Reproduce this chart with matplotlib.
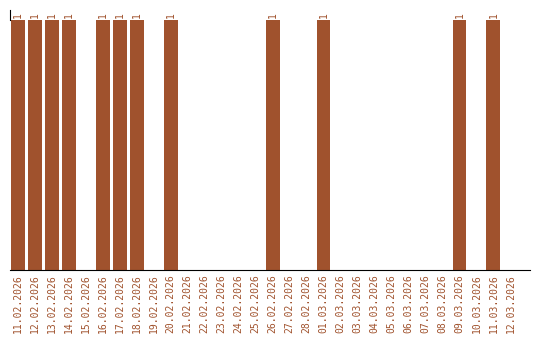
import matplotlib
matplotlib.use("Agg")
from matplotlib import pyplot as plt
import pandas as pd

# one entry per day, value = count
dates = pd.date_range("2026-02-11", "2026-03-12", freq="D")
date_labels = [d.strftime("%d.%m.%Y") for d in dates]
hit_days = ["11.02.2026", "12.02.2026", "13.02.2026", "14.02.2026",
            "16.02.2026", "17.02.2026", "18.02.2026", "20.02.2026",
            "26.02.2026", "01.03.2026", "09.03.2026", "11.03.2026"]
counts = [1 if d in hit_days else 0 for d in date_labels]

color = "#A0522D"

fig = plt.figure(figsize=(5.4, 3.4), dpi=100)
ax = fig.add_axes([10 / 540, 70 / 340, 520 / 540, 260 / 340])

x = list(range(len(date_labels)))
bars = ax.bar(x, counts, width=0.82, color=color)

for xi, c in zip(x, counts):
    if c > 0:
        ax.text(xi, c + 0.008, str(c), rotation=90, ha="center", va="bottom",
                color=color, fontsize=7, family="DejaVu Sans Mono")

ax.set_xlim(-0.45, 30.15)
ax.set_ylim(0, 1.04)
ax.set_xticks(x)
ax.set_xticklabels(date_labels, rotation=90, color=color, fontsize=7,
                   family="DejaVu Sans Mono")
ax.tick_params(axis="x", length=0, pad=3)
ax.set_yticks([])
ax.spines["top"].set_visible(False)
ax.spines["right"].set_visible(False)
ax.spines["left"].set_bounds(1.0, 1.04)

fig.savefig("out.png", dpi=100)
